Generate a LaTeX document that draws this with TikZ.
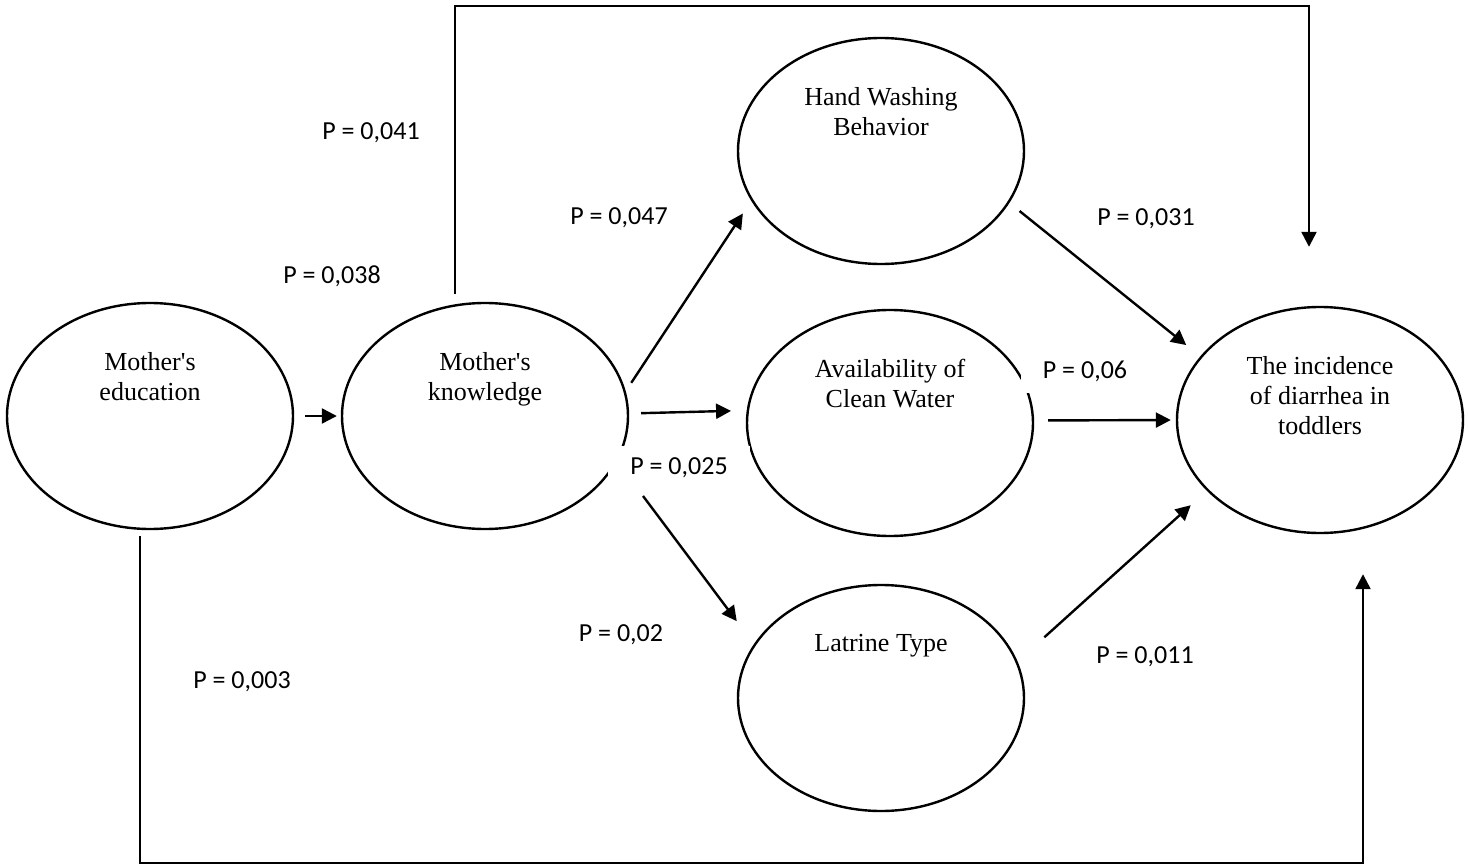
\documentclass[tikz,border=0pt]{standalone}
\usepackage{fontspec}
\setmainfont{Liberation Serif}
\newfontfamily\pfont{Carlito}
\usetikzlibrary{shapes.geometric,arrows.meta}

\begin{document}
\begin{tikzpicture}[x=0.5pt,y=-0.5pt,
	var/.style={draw,ellipse,line width=1.2pt,minimum width=143pt,minimum height=113pt,inner sep=0pt},
	vtext/.style={anchor=north,align=center,inner sep=0pt,font=\fontsize{13}{15}\selectfont},
	pval/.style={fill=white,inner xsep=11pt,inner ysep=6pt,font=\pfont\fontsize{13}{15}\selectfont},
	link/.style={-{Triangle[length=7.5pt,width=7.5pt]},line width=1.2pt}]
	\useasboundingbox (0,0) rectangle (1469,867);

	% variables
	\node[var] (edu) at (150,416) {};
	\node[var] (know) at (485,416) {};
	\node[var] (hand) at (881,151) {};
	\node[var] (avail) at (890,423) {};
	\node[var] (latr) at (881,698) {};
	\node[var] (inc) at (1320,420) {};

	% paths
	\draw[link,shorten <=5.5pt,shorten >=2pt] (edu) -- (know);
	\draw[link,shorten <=5pt,shorten >=7.6pt] (know.10.4) -- (hand.201.5);
	\draw[link,shorten <=6pt,shorten >=7.8pt] (know.1.6) -- (avail.175.6);
	\draw[link,shorten <=21.5pt,shorten >=14.3pt] (know.341.3) -- (latr.157.7);
	\draw[link,shorten <=6.5pt,shorten >=9pt] (hand.338.3) -- (inc.152.2);
	\draw[link,shorten <=7pt,shorten >=2.5pt] (avail.1.2) -- (inc.180.8);
	\draw[link,shorten <=18pt,shorten >=10.8pt] (latr.15.4) -- (inc.212.3);
	\draw[link] ([xshift=-15pt,yshift=4pt]know.north) -- ++(0,-288) -| ([xshift=-5.5pt,yshift=29.5pt]inc.north);
	\draw[link] ([xshift=-5pt,yshift=-3pt]edu.south) -- ++(0,327) -| ([xshift=21.5pt,yshift=-20pt]inc.south);

	% p values
	\node[pval] (p041) at (371,133) {P = 0,041};
	\node[pval] (p038) at (332,276) {P = 0,038};
	\node[pval] (p047) at (619,218) {P = 0,047};
	\node[pval] (p031) at (1146,219) {P = 0,031};
	\node[pval] (p06) at (1085,371) {P = 0,06};
	\node[pval] (p025) at (679,468) {P = 0,025};
	\node[pval] (p02) at (621,635) {P = 0,02};
	\node[pval] (p011) at (1145,657) {P = 0,011};
	\node[pval] (p003) at (242,682) {P = 0,003};

	% names
	\node[vtext] (edut) at ([yshift=-25pt]edu.north) {Mother\textquotesingle s\\education};
	\node[vtext] (knowt) at ([yshift=-25pt]know.north) {Mother\textquotesingle s\\knowledge};
	\node[vtext] (handt) at ([yshift=-25pt]hand.north) {Hand Washing\\Behavior};
	\node[vtext] (availt) at ([yshift=-25pt]avail.north) {Availability of\\Clean Water};
	\node[vtext] (latrt) at ([yshift=-25pt]latr.north) {Latrine Type};
	\node[vtext] (inct) at ([yshift=-25pt]inc.north) {The incidence\\of diarrhea in\\toddlers};
\end{tikzpicture}
\end{document}
